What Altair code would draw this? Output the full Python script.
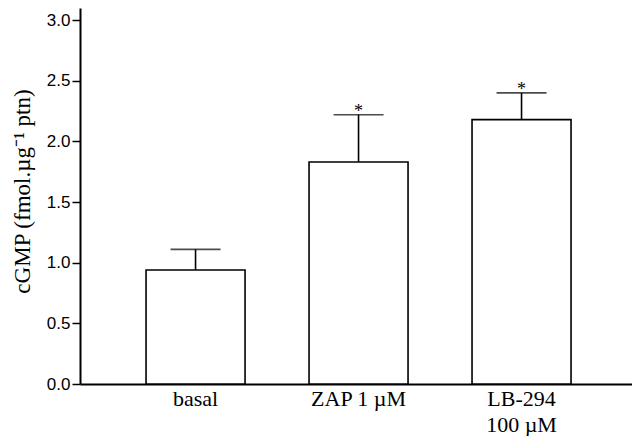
import altair as alt
import pandas as pd

categories = ["basal", "ZAP 1 µM", "LB-294|100 µM"]
means = [0.94, 1.83, 2.18]
errors = [0.17, 0.39, 0.22]
stars = ["", "*", "*"]

df = pd.DataFrame({
    "cat": categories,
    "mean": means,
    "err": errors,
    "star": stars,
})
df["upper"] = df["mean"] + df["err"]

x = alt.X(
    "cat:N",
    sort=categories,
    title=None,
    scale=alt.Scale(paddingInner=0.3926, paddingOuter=0.3896, align=0.52),
    axis=alt.Axis(
        labelExpr="split(datum.value, '|')",
        labelAngle=0,
        ticks=False,
        domainWidth=2,
        domainColor="black",
        labelFont="Liberation Serif",
        labelFontSize=22,
        labelColor="black",
        labelPadding=4,
        labelLineHeight=26,
        labelBaseline="top",
    ),
)

yscale = alt.Scale(domain=[0, 3.1], nice=False, zero=True)

bars = alt.Chart(df).mark_bar(fill="white", stroke="black", strokeWidth=1.6).encode(
    x=x,
    y=alt.Y(
        "mean:Q",
        scale=yscale,
        title="cGMP (fmol.µg⁻¹  ptn)",
        axis=alt.Axis(
            values=[0, 0.5, 1.0, 1.5, 2.0, 2.5, 3.0],
            format=".1f",
            grid=False,
            domainWidth=2,
            domainColor="black",
            tickColor="black",
            tickWidth=1.5,
            tickSize=8,
            labelFont="Liberation Sans",
            labelFontSize=17,
            labelColor="black",
            labelPadding=2,
            titleFont="Liberation Serif",
            titleFontSize=23,
            titleFontWeight="normal",
            titleColor="black",
            titleX=-46,
            titleY=183,
            titleAngle=270,
            titleBaseline="bottom",
            titleAlign="center",
        ),
    ),
)

rules = alt.Chart(df).mark_rule(color="black", strokeWidth=1.6).encode(
    x=alt.X("cat:N", sort=categories),
    y="mean:Q",
    y2="upper:Q",
)

caps = alt.Chart(df).mark_tick(color="black", size=50, thickness=1.6, orient="horizontal").encode(
    x=alt.X("cat:N", sort=categories),
    y="upper:Q",
)

star_text = alt.Chart(df).mark_text(
    font="Liberation Serif", fontSize=18, color="black", baseline="alphabetic", dy=2
).encode(
    x=alt.X("cat:N", sort=categories),
    y="upper:Q",
    text="star:N",
)

chart = (bars + rules + caps + star_text).properties(
    width=552,
    height=376,
    autosize=alt.AutoSizeParams(type="none"),
    padding={"left": 72, "top": 0, "right": 0, "bottom": 52},
).configure(background="white").configure_view(stroke=None)

chart.save("out.html", embed_options={"renderer": "svg", "actions": False})
